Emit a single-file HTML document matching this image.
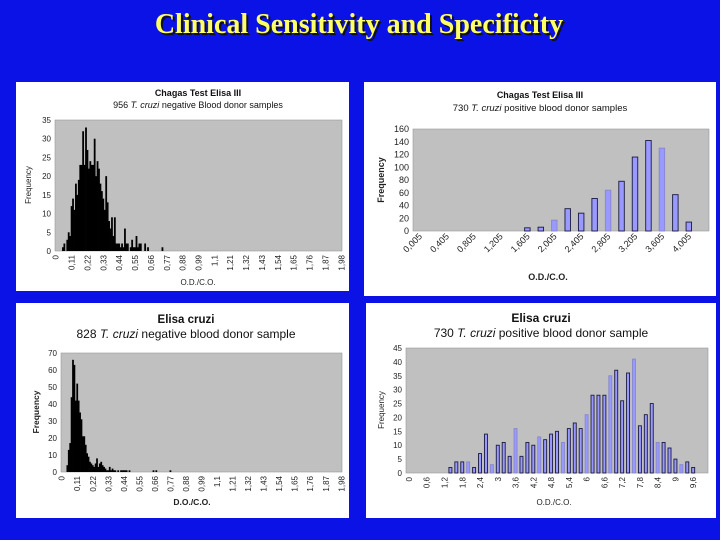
<!DOCTYPE html>
<html><head><meta charset="utf-8"><style>
html,body{margin:0;padding:0;background:#0b12e6;}
svg{display:block;font-family:"Liberation Sans",sans-serif;}
</style></head><body>
<svg id="s" width="720" height="540" viewBox="0 0 720 540">
<rect x="0" y="0" width="720" height="540" fill="#0b12e6"/>
<text x="361" y="35" text-anchor="middle" font-family="Liberation Serif,serif" font-weight="bold" font-size="28" fill="#111">Clinical Sensitivity and Specificity</text>
<text x="359" y="33" text-anchor="middle" font-family="Liberation Serif,serif" font-weight="bold" font-size="28" fill="#ffff66">Clinical Sensitivity and Specificity</text>
</svg>
<script>
// Chart 1: Chagas Test Elisa III negative (bins of 0.01 starting at 0)
const c1Values = [0,0,0,0,0,1,2,0,3,5,4,12,14,11,18,15,19,23,23,32,23,33,27,22,24,23,23,30,20,24,22,18,16,14,11,20,13,8,6,9,4,9,2,2,2,1,2,1,6,2,2,0,1,3,1,1,4,1,2,2,0,0,2,0,1,0,0,0,0,0,0,0,0,0,1];
const c1Ticks = ["0","0,11","0,22","0,33","0,44","0,55","0,66","0,77","0,88","0,99","1,1","1,21","1,32","1,43","1,54","1,65","1,76","1,87","1,98"];
// Chart 2: Chagas Test Elisa III positive (categories step 0.2)
const c2Values = [0,0,0,0,0,0,0,0,5,6,17,35,28,51,64,78,116,142,130,57,14,0];
const c2Ticks = ["0,005","0,405","0,805","1,205","1,605","2,005","2,405","2,805","3,205","3,605","4,005"];
// Chart 3: Elisa cruzi negative (bins of 0.01)
const c3Values = [0,0,0,0,4,13,17,44,66,63,42,52,42,35,31,21,21,16,11,9,6,5,4,3,5,8,3,5,6,4,3,2,1,1,3,1,2,1,1,0,1,0,1,1,1,1,1,0,1,0,0,0,0,0,0,0,0,0,0,0,0,0,0,0,0,1,0,1,0,0,0,0,0,0,0,0,0,1];
const c3Ticks = ["0","0,11","0,22","0,33","0,44","0,55","0,66","0,77","0,88","0,99","1,1","1,21","1,32","1,43","1,54","1,65","1,76","1,87","1,98"];
// Chart 4: Elisa cruzi positive (categories step 0.2)
const c4Values = [0,0,0,0,0,0,0,2,4,4,4,2,7,14,3,10,11,6,16,6,11,10,13,12,14,15,11,16,18,16,21,28,28,28,35,37,26,36,41,17,21,25,11,11,9,5,3,4,2,0,0];
const c4Ticks = ["0","0,6","1,2","1,8","2,4","3","3,6","4,2","4,8","5,4","6","6,6","7,2","7,8","8,4","9","9,6"];

const NS="http://www.w3.org/2000/svg";
const svg=document.getElementById('s');
function mk(tag,attrs,parent,txt){const e=document.createElementNS(NS,tag);for(const k in attrs)e.setAttribute(k,attrs[k]);if(txt!==undefined)e.textContent=txt;(parent||svg).appendChild(e);return e;}

function chart(o){
  const g=mk('g',{});
  
  
  const panel=mk('rect',{x:o.px,y:o.py,width:o.pw,height:o.ph,fill:'#fff'},g);
  
  
  const t1=mk('text',{x:o.tx,y:o.t1y,'text-anchor':'middle','font-size':o.tfs,'font-weight':'bold',fill:'#111'},g,o.title);
  
  
  const t2=mk('text',{x:o.tx,y:o.t2y,'text-anchor':'middle','font-size':o.sfs,fill:'#111'},g);
  
  
  mk('tspan',{},t2,o.sub[0]+' ');
  mk('tspan',{'font-style':'italic'},t2,'T. cruzi');
  mk('tspan',{},t2,'  '+o.sub[1]);
  const pa=mk('rect',{x:o.x0,y:o.y0,width:o.x1-o.x0,height:o.y1-o.y0,fill:'#c0c0c0',stroke:'#999','stroke-width':0.6},g);
  
  
  const n=o.nCats, cw=(o.x1-o.x0)/n;
  const xc=i=>o.x0+(i+0.5)*cw;
  const ys=v=>o.y1-(v/o.ymax)*(o.y1-o.y0);
  for(let v=0;v<=o.ymax;v+=o.ystep){
    const t=mk('text',{x:o.x0-4,y:ys(v)+3,'text-anchor':'end','font-size':o.yfs,fill:'#222'},g,String(v));
    
    
  }
  o.values.forEach((v,i)=>{
    if(v<=0)return;
    const w=o.solid?cw+0.35:o.bw;
    const b=mk('rect',{x:xc(i)-w/2,y:ys(v),width:w,height:ys(0)-ys(v),fill:o.solid?'#000':'#9999ff',stroke:o.solid?'none':(i%4===2?'#8888cc':'#1a1a40'),'stroke-width':o.solid?0:0.9},g);
    
    
  });
  o.ticks.forEach((lab,k)=>{
    const x=xc(k*o.every);
    let t;
    if(o.rot===45){
      t=mk('text',{x:x+3,y:o.y1+6,'text-anchor':'end','font-size':o.xfs,fill:'#222',transform:`rotate(-45 ${x+3} ${o.y1+6})`},g,lab);
    }else{
      t=mk('text',{x:x+3,y:o.y1+4,'text-anchor':'end','font-size':o.xfs,fill:'#222',transform:`rotate(-90 ${x+3} ${o.y1+4})`},g,lab);
    }
    
    
  });
  const xt=mk('text',{x:o.xtx,y:o.xty,'text-anchor':'middle','font-size':o.atfs,'font-weight':o.atb?'bold':'normal',fill:'#222'},g,o.xtitle);
  
  
  const yt=mk('text',{x:o.ytx,y:o.yty,'text-anchor':'middle','font-size':o.atfs,'font-weight':o.atb?'bold':'normal',fill:'#222',transform:`rotate(-90 ${o.ytx} ${o.yty})`},g,'Frequency');
  
  
}

chart({name:'chart-elisa-iii-negative',px:16,py:82,pw:333,ph:209,tx:198,t1y:96,t2y:108,tfs:9,sfs:9,
  title:'Chagas Test Elisa III',sub:['956','negative Blood donor samples'],
  x0:55,x1:342,y0:120,y1:251,ymax:35,ystep:5,nCats:199,values:c1Values,ticks:c1Ticks,every:11,solid:true,
  rot:90,xfs:8,yfs:8,xtitle:'O.D./C.O.',xtx:198,xty:285,ytx:31,yty:185,atfs:8,atb:false});
chart({name:'chart-elisa-iii-positive',px:364,py:82,pw:352,ph:214,tx:540,t1y:98,t2y:111,tfs:9,sfs:9.5,
  title:'Chagas Test Elisa III',sub:['730','positive blood donor samples'],
  x0:413,x1:709,y0:129,y1:231,ymax:160,ystep:20,nCats:22,values:c2Values,ticks:c2Ticks,every:2,solid:false,bw:5.5,
  rot:45,xfs:9,yfs:9,xtitle:'O.D./C.O.',xtx:548,xty:280,ytx:384,yty:180,atfs:9,atb:true});
chart({name:'chart-elisa-cruzi-negative',px:16,py:303,pw:333,ph:215,tx:186,t1y:323,t2y:338,tfs:11.5,sfs:12,
  title:'Elisa cruzi',sub:['828','negative blood donor sample'],
  x0:61,x1:342,y0:353,y1:472,ymax:70,ystep:10,nCats:199,values:c3Values,ticks:c3Ticks,every:11,solid:true,
  rot:90,xfs:8,yfs:8,xtitle:'D.O./C.O.',xtx:192,xty:505,ytx:39,yty:412,atfs:8.5,atb:true});
chart({name:'chart-elisa-cruzi-positive',px:366,py:303,pw:350,ph:215,tx:541,t1y:322,t2y:337,tfs:12,sfs:12,
  title:'Elisa cruzi',sub:['730','positive blood donor sample'],
  x0:406,x1:708,y0:348,y1:473,ymax:45,ystep:5,nCats:51,values:c4Values,ticks:c4Ticks,every:3,solid:false,bw:3,
  rot:90,xfs:8,yfs:8,xtitle:'O.D./C.O.',xtx:554,xty:505,ytx:384,yty:410,atfs:8,atb:false});
</script>
</body></html>
